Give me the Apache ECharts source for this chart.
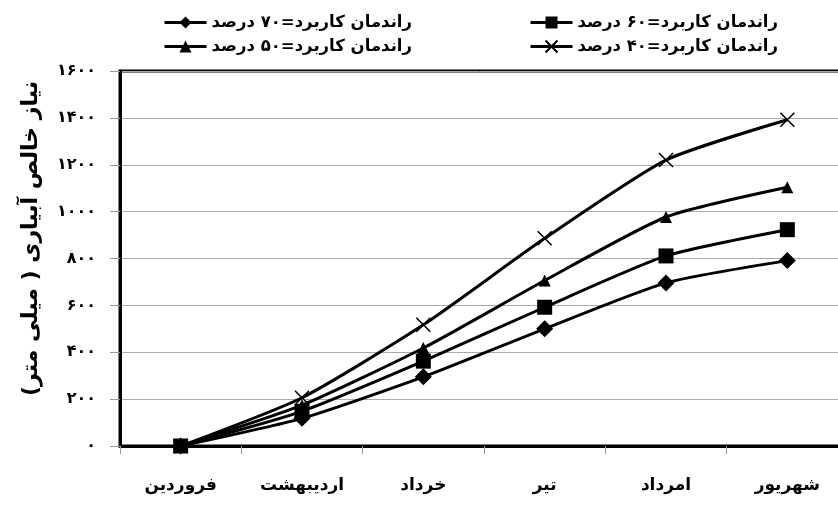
<!DOCTYPE html>
<html>
<head>
<meta charset="utf-8">
<script src="https://cdn.jsdelivr.net/npm/echarts@6/dist/echarts.min.js"></script>
<style>
html,body{margin:0;padding:0;background:#fff;}
#c{width:838px;height:508px;}
</style>
</head>
<body>
<div id="c"></div>
<script>
var categories = ['فروردین', 'اردیبهشت', 'خرداد', 'تیر', 'امرداد', 'شهریور'];
var seriesNames = ['راندمان کاربرد=۷۰ درصد', 'راندمان کاربرد=۶۰ درصد', 'راندمان کاربرد=۵۰ درصد', 'راندمان کاربرد=۴۰ درصد'];
var eff70 = [0, 118, 295, 500, 696, 791];
var eff60 = [0, 148, 362, 592, 811, 923];
var eff50 = [0, 174, 418, 706, 977, 1104];
var eff40 = [0, 206, 517, 886, 1220, 1392];
var yTickLabels = ['۰', '۲۰۰', '۴۰۰', '۶۰۰', '۸۰۰', '۱۰۰۰', '۱۲۰۰', '۱۴۰۰', '۱۶۰۰'];
var yAxisName = 'نیاز خالص آبیاری ( میلی متر)';

var FONT = "'DejaVu Sans', sans-serif";
var crossPath = 'path://M0,0L10,10M10,0L0,10';

function mkSeries(name, data, symbol, size, extra) {
  var s = {
    name: name,
    type: 'line',
    data: data,
    smooth: 0.2,
    symbol: symbol,
    symbolSize: size,
    showAllSymbol: true,
    lineStyle: { color: '#000', width: 3 },
    itemStyle: { color: '#000', borderColor: '#000', borderWidth: 0 },
    emphasis: { disabled: true },
    animation: false
  };
  if (extra) { for (var k in extra) s[k] = extra[k]; }
  return s;
}

var chart = echarts.init(document.getElementById('c'));
var legendBase = {
  orient: 'horizontal',
  align: 'left',
  itemWidth: 42,
  itemHeight: 15,
  itemGap: 6,
  selectedMode: false,
  lineStyle: { width: 3 },
  textStyle: { fontFamily: FONT, fontWeight: 'bold', fontSize: 16.5, color: '#000' }
};
function mkLegend(name, left, top) {
  var l = {};
  for (var k in legendBase) l[k] = legendBase[k];
  l.data = [name + '\u200F'];
  l.left = left; l.top = top;
  return l;
}
var names = seriesNames.map(function (n) { return n + '\u200F'; });

chart.setOption({
  backgroundColor: '#fff',
  animation: false,
  legend: [
    mkLegend(seriesNames[0], 158, 9),
    mkLegend(seriesNames[1], 524, 9),
    mkLegend(seriesNames[2], 158, 33),
    mkLegend(seriesNames[3], 524, 33)
  ],
  grid: {
    left: 120, top: 71, width: 728, bottom: 62,
    outerBoundsMode: 'none',
    containLabel: false,
    show: true, borderColor: '#000', borderWidth: 3, backgroundColor: 'transparent'
  },
  xAxis: {
    type: 'category',
    data: categories,
    boundaryGap: true,
    axisLine: { show: true, lineStyle: { color: '#000', width: 3 } },
    axisTick: { show: true, length: 8, lineStyle: { color: '#999', width: 1 } },
    axisLabel: { margin: 31, fontFamily: FONT, fontWeight: 'bold', fontSize: 17, color: '#000' },
    splitLine: { show: false }
  },
  yAxis: {
    type: 'value',
    min: 0, max: 1600, interval: 200,
    name: yAxisName + '\u200F',
    nameLocation: 'middle',
    nameRotate: 90,
    nameGap: 78,
    nameTextStyle: { fontFamily: FONT, fontWeight: 'bold', fontSize: 22, color: '#000', padding: [0, 0, 0, 40] },
    axisLine: { show: true, lineStyle: { color: '#000', width: 3 } },
    axisTick: { show: true, length: 10, lineStyle: { color: '#999', width: 1 } },
    axisLabel: {
      margin: 24, fontFamily: FONT, fontWeight: 'bold', fontSize: 16, color: '#000',
      formatter: function (v) { return yTickLabels[Math.round(v / 200)]; }
    },
    splitLine: { show: true, lineStyle: { color: '#aaa', width: 1 } }
  },
  series: [
    mkSeries(names[0], eff70, 'diamond', 17),
    mkSeries(names[1], eff60, 'rect', 15),
    mkSeries(names[2], eff50, 'triangle', 12),
    mkSeries(names[3], eff40, crossPath, 14, { itemStyle: { color: 'none', borderColor: '#000', borderWidth: 1.5 } })
  ]
});
</script>
</body>
</html>
